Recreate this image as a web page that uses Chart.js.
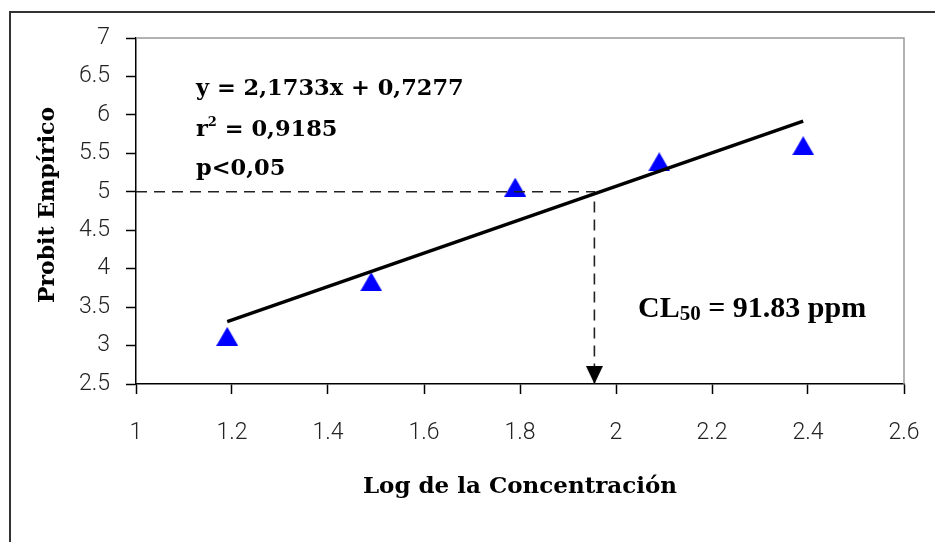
<!DOCTYPE html>
<html><head><meta charset="utf-8">
<script src="https://cdn.jsdelivr.net/npm/chart.js@4/dist/chart.umd.min.js"></script>
<style>html,body{margin:0;padding:0;background:#fff;} #wrap{width:935px;height:542px;position:relative;}</style>
</head><body><div id="wrap"><canvas id="c" width="935" height="542"></canvas></div>
<script>
// ---- data ----
const logConc = [1.19, 1.49, 1.79, 2.09, 2.39];
const probit  = [3.12, 3.83, 5.06, 5.39, 5.60];
const trendX  = [1.19, 2.39];
const trendY  = [3.31, 5.92];
const lc50X   = 1.955;
const lc50Y   = 5;
const xTicks  = [1, 1.2, 1.4, 1.6, 1.8, 2, 2.2, 2.4, 2.6];
const yTicks  = [2.5, 3, 3.5, 4, 4.5, 5, 5.5, 6, 6.5, 7];
const xTitle  = 'Log de la Concentración';
const yTitle  = 'Probit Empírico';
const eqLine1 = 'y = 2,1733x + 0,7277';
const eqR2    = ['r', '2', ' = 0,9185'];
const eqLine3 = 'p<0,05';
const lcParts = ['CL', '50', ' = 91.83 ppm'];

// ---- markers ----
function triCanvas(w, h, color, down) {
  const c = document.createElement('canvas');
  c.width = w; c.height = down ? 2 * h : h;
  const g = c.getContext('2d');
  g.fillStyle = color;
  g.beginPath();
  if (!down) { g.moveTo(w / 2, 0); g.lineTo(w, h); g.lineTo(0, h); }
  else { g.moveTo(0, 0); g.lineTo(w, 0); g.lineTo(w / 2, h); }
  g.closePath(); g.fill();
  return c;
}
const blueTri = triCanvas(22, 19, '#0000FF', false);
const arrowHead = triCanvas(17, 18, '#000000', true);

const serifB = '"DejaVu Serif", serif';

const decorPlugin = {
  id: 'decor',
  beforeDatasetsDraw(chart) {
    const { ctx, chartArea: a } = chart;
    ctx.save();
    ctx.strokeStyle = '#999';
    ctx.lineWidth = 1.5;
    ctx.beginPath();
    ctx.moveTo(a.left, a.top); ctx.lineTo(a.right, a.top); ctx.lineTo(a.right, a.bottom);
    ctx.stroke();
    ctx.restore();
  },
  afterDraw(chart) {
    const { ctx, chartArea: a } = chart;
    ctx.save();
    // outer frame
    ctx.strokeStyle = '#333';
    ctx.lineWidth = 2;
    ctx.strokeRect(10, 12, 1000, 1000);
    ctx.fillStyle = '#000';
    ctx.textBaseline = 'alphabetic';
    ctx.textAlign = 'left';
    // equation
    ctx.font = 'bold 22.5px ' + serifB;
    ctx.fillText(eqLine1, 196, 95);
    let x = 196;
    ctx.fillText(eqR2[0], x, 136); x += ctx.measureText(eqR2[0]).width;
    ctx.font = 'bold 13px ' + serifB;
    ctx.fillText(eqR2[1], x, 126); x += ctx.measureText(eqR2[1]).width;
    ctx.font = 'bold 22.5px ' + serifB;
    ctx.fillText(eqR2[2], x, 136);
    ctx.fillText(eqLine3, 196, 175);
    // CL50
    const tf = '"Liberation Serif", "Times New Roman", serif';
    x = 638;
    ctx.font = 'bold 30px ' + tf;
    ctx.fillText(lcParts[0], x, 317); x += ctx.measureText(lcParts[0]).width;
    ctx.font = 'bold 21px ' + tf;
    ctx.fillText(lcParts[1], x, 320); x += ctx.measureText(lcParts[1]).width;
    ctx.font = 'bold 30px ' + tf;
    ctx.fillText(lcParts[2], x, 317);
    // axis titles
    ctx.font = 'bold 23px ' + serifB;
    ctx.textAlign = 'center';
    ctx.textBaseline = 'middle';
    ctx.fillText(xTitle, (a.left + a.right) / 2, 487);
    ctx.font = 'bold 22px ' + serifB;
    ctx.translate(48, 205);
    ctx.rotate(-Math.PI / 2);
    ctx.fillText(yTitle, 0, 0);
    ctx.restore();
  }
};

const tickFont = { family: 'Roboto, "Liberation Sans", sans-serif', size: 23, weight: 300, lineHeight: 1.2 };

new Chart(document.getElementById('c'), {
  type: 'scatter',
  data: {
    datasets: [
      {
        label: 'trend',
        data: trendX.map((v, i) => ({ x: v, y: trendY[i] })),
        showLine: true, borderColor: '#000', borderWidth: 3.4,
        pointRadius: 0, order: 1
      },
      {
        label: 'lc50',
        data: [{ x: xTicks[0], y: lc50Y }, { x: lc50X, y: lc50Y }, { x: lc50X, y: yTicks[0] }],
        showLine: true, borderColor: '#222', borderWidth: 1.6, borderDash: [11, 7],
        pointRadius: 0, order: 2
      },
      {
        label: 'arrow',
        data: [{ x: lc50X, y: yTicks[0] }],
        pointStyle: arrowHead, pointRadius: 9, order: 1
      },
      {
        label: 'Probit',
        data: logConc.map((v, i) => ({ x: v, y: probit[i] })),
        pointStyle: blueTri, pointRadius: 11, order: 3
      }
    ]
  },
  options: {
    responsive: false,
    devicePixelRatio: 1,
    animation: false,
    layout: { padding: { left: 0, right: 31, top: 38, bottom: 0 } },
    plugins: { legend: { display: false }, tooltip: { enabled: false } },
    scales: {
      x: {
        type: 'linear', min: xTicks[0], max: xTicks[xTicks.length - 1],
        afterBuildTicks: s => { s.ticks = xTicks.map(v => ({ value: v })); },
        afterFit: s => { s.height = 542 - 384; s.paddingLeft = 0; s.paddingRight = 0; },
        ticks: { callback: v => String(v), font: tickFont, color: '#222', padding: 25, maxRotation: 0, autoSkip: false },
        grid: { drawOnChartArea: false, drawTicks: true, tickLength: 10, color: '#000', tickWidth: 1.5 },
        border: { display: true, color: '#000', width: 1.5 }
      },
      y: {
        type: 'linear', min: yTicks[0], max: yTicks[yTicks.length - 1],
        afterBuildTicks: s => { s.ticks = yTicks.map(v => ({ value: v })); },
        afterFit: s => { s.width = 136; s.paddingTop = 0; s.paddingBottom = 0; },
        ticks: { callback: v => String(v), font: tickFont, color: '#222', padding: 16, autoSkip: false },
        grid: { drawOnChartArea: false, drawTicks: true, tickLength: 10, color: '#000', tickWidth: 1.5 },
        border: { display: true, color: '#000', width: 1.5 }
      }
    }
  },
  plugins: [decorPlugin]
});
</script></body></html>
